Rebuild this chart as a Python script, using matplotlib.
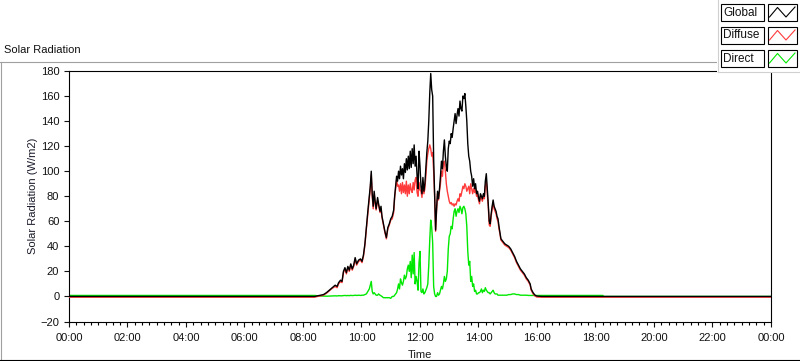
import matplotlib
matplotlib.use('Agg')
import matplotlib.pyplot as plt
from matplotlib.patches import Rectangle
from matplotlib.lines import Line2D
from matplotlib.ticker import MultipleLocator, FixedLocator

plt.rcParams['font.family'] = ['Liberation Sans', 'DejaVu Sans']
plt.rcParams['font.size'] = 8

# time of each reading (HH:MM) and the three radiation series (W/m2)
times = ['00:00', '08:24', '08:30', '08:36', '08:42', '08:48', '08:54', '09:00', '09:06', '09:10',
         '09:13', '09:17', '09:20', '09:23', '09:26', '09:29', '09:32', '09:35', '09:38', '09:41',
         '09:44', '09:47', '09:50', '09:54', '09:58', '10:01', '10:04', '10:07', '10:10', '10:13',
         '10:16', '10:18', '10:20', '10:22', '10:24', '10:26', '10:28', '10:30', '10:33', '10:35',
         '10:38', '10:40', '10:42', '10:45', '10:48', '10:51', '10:54', '10:57', '11:00', '11:03',
         '11:06', '11:08', '11:10', '11:12', '11:14', '11:16', '11:18', '11:20', '11:22', '11:24',
         '11:26', '11:28', '11:30', '11:32', '11:34', '11:36', '11:38', '11:40', '11:42', '11:44',
         '11:46', '11:48', '11:50', '11:52', '11:54', '11:56', '11:58', '12:00', '12:02', '12:04',
         '12:06', '12:08', '12:10', '12:12', '12:14', '12:16', '12:18', '12:20', '12:22', '12:24',
         '12:26', '12:28', '12:30', '12:32', '12:34', '12:36', '12:38', '12:40', '12:42', '12:44',
         '12:46', '12:48', '12:50', '12:52', '12:54', '12:56', '12:58', '13:00', '13:02', '13:04',
         '13:06', '13:08', '13:10', '13:12', '13:14', '13:16', '13:18', '13:20', '13:22', '13:24',
         '13:26', '13:28', '13:30', '13:32', '13:34', '13:36', '13:38', '13:40', '13:42', '13:44',
         '13:46', '13:48', '13:50', '13:52', '13:54', '13:56', '13:58', '14:00', '14:02', '14:04',
         '14:06', '14:08', '14:10', '14:12', '14:14', '14:16', '14:18', '14:20', '14:22', '14:24',
         '14:26', '14:28', '14:30', '14:32', '14:34', '14:36', '14:38', '14:40', '14:42', '14:44',
         '14:46', '14:48', '14:50', '14:54', '14:58', '15:02', '15:06', '15:10', '15:14', '15:18',
         '15:22', '15:26', '15:30', '15:34', '15:38', '15:42', '15:46', '15:48', '15:52', '15:56',
         '16:00', '16:10', '18:15', '18:17', '24:00']

global_rad = [0, 0, 0.5, 1, 1.5, 3, 5, 7, 9, 8,
              11, 13, 12, 20, 23, 19, 24, 21, 26, 22,
              25, 31, 26, 29, 30, 28, 33, 42, 55, 68,
              80, 88, 100, 82, 72, 84, 76, 70, 79, 74,
              68, 72, 64, 58, 52, 47, 55, 58, 62, 64,
              69, 80, 88, 96, 92, 100, 94, 104, 97, 102,
              94, 106, 99, 110, 101, 112, 102, 116, 103, 118,
              106, 121, 104, 112, 96, 86, 116, 104, 88, 82,
              95, 84, 90, 102, 115, 124, 140, 162, 178, 165,
              160, 110, 82, 53, 70, 84, 78, 86, 96, 108,
              102, 116, 125, 112, 104, 100, 118, 124, 122, 130,
              127, 134, 140, 146, 138, 145, 150, 144, 156, 150,
              148, 160, 158, 162, 152, 140, 122, 112, 108, 100,
              96, 88, 94, 86, 90, 82, 84, 79, 76, 82,
              80, 78, 82, 80, 92, 98, 86, 74, 60, 58,
              66, 72, 77, 72, 70, 68, 64, 62, 56, 51,
              46, 45, 44, 42, 41, 40, 38, 35, 32, 28,
              25, 22, 20, 18, 15, 13, 10, 6, 3, 1,
              0.3, 0, 0, 0, 0]

diffuse_rad = [-0.6, -0.6, 0, 0.5, 1, 2.5, 4.5, 6.5, 8, 7,
               10, 12, 11, 19, 22, 18, 23, 20, 25, 21,
               24, 30, 25, 28, 29, 27, 32, 41, 54, 66,
               78, 86, 97, 80, 70, 82, 74, 69, 77, 73,
               67, 70, 63, 57, 51, 46, 54, 57, 61, 62,
               67, 79, 86, 93, 88, 89, 84, 90, 82, 91,
               83, 89, 82, 92, 80, 89, 82, 90, 85, 83,
               91, 85, 93, 95, 83, 80, 91, 85, 84, 79,
               88, 82, 86, 96, 108, 114, 118, 121, 118, 112,
               115, 100, 80, 52, 69, 82, 77, 84, 90, 100,
               96, 106, 108, 100, 90, 84, 80, 76, 74, 75,
               73, 74, 72, 74, 73, 76, 78, 76, 82, 80,
               84, 88, 86, 90, 88, 84, 86, 88, 82, 90,
               86, 82, 86, 83, 86, 80, 82, 77, 74, 80,
               78, 76, 80, 78, 88, 92, 82, 72, 57, 56,
               64, 70, 75, 70, 68, 66, 62, 60, 54, 50,
               45, 44, 43, 41, 40, 39, 37, 34, 31, 27,
               24, 21, 19, 17, 14, 12, 9, 5, 2, 0.3,
               -0.5, -0.6, -0.6, -0.6, -0.6]

direct_rad = [0.8, 0.8, 0.5, 0.3, 0.3, 0.2, 0.3, 0.4, 0.5, 0.4,
              0.6, 0.5, 0.5, 0.7, 0.8, 0.6, 0.8, 0.6, 0.9, 0.7,
              0.8, 1.0, 0.8, 1, 0.8, 1.0, 1, 1.5, 2, 4,
              6, 9, 12, 4, 2, 3, 2, 1, 1, 2,
              1, 0.5, 0, -1, -1, -1, -1, -1, -1.5, 0,
              0, 1, 2, 3, 6, 10, 6, 14, 11, 9,
              12, 17, 14, 16, 22, 25, 20, 28, 15, 33,
              18, 35, 10, 16, 12, 5, 27, 36, 4, 3,
              6, 2, 3, 5, 7, 10, 25, 45, 61, 55,
              43, 8, 2, 0, 0, 3, 1, 2, 5, 8,
              6, 10, 16, 12, 14, 20, 38, 48, 50, 56,
              54, 62, 68, 70, 64, 68, 70, 67, 72, 70,
              66, 71, 72, 70, 66, 56, 36, 25, 28, 12,
              16, 8, 10, 4, 5, 2, 2, 3, 3, 4,
              6, 3, 5, 4, 7, 5, 4, 3, 3, 2,
              3, 4, 5, 3, 2, 2, 2, 1, 1, 1,
              1, 1, 1, 1, 1, 1.5, 1.5, 2, 2, 1.5,
              1.5, 1, 1, 1, 1, 0.8, 0.8, 0.8, 0.8, 0.8,
              0.8, 0.8, 0.8, 0, 0]

series_names = ['Global', 'Diffuse', 'Direct']
series_colors = ['#000000', '#ff3b3b', '#00e800']
x_ticklabels = ['00:00', '02:00', '04:00', '06:00', '08:00', '10:00', '12:00',
                '14:00', '16:00', '18:00', '20:00', '22:00', '00:00']


def to_hours(t):
    hh, mm = t.split(':')
    return int(hh) + int(mm) / 60.0


hours = [to_hours(t) for t in times]

W, H = 800, 361
fig = plt.figure(figsize=(W / 100, H / 100), dpi=100)
fig.patch.set_facecolor('white')


def fx(x):
    return x / W


def fy(y):
    return 1 - y / H


ax = fig.add_axes([fx(69), fy(321.5), fx(771) - fx(69), fy(71) - fy(321.5)])

# draw order: green under red under black
ax.plot(hours, direct_rad, color=series_colors[2], lw=1.0, zorder=2)
ax.plot(hours, diffuse_rad, color=series_colors[1], lw=1.0, zorder=3)
ax.plot(hours, global_rad, color=series_colors[0], lw=1.0, zorder=4)

ax.set_xlim(0, 24)
ax.set_ylim(-20, 180)
ax.yaxis.set_major_locator(MultipleLocator(20))
ax.xaxis.set_major_locator(FixedLocator(list(range(0, 25, 2))))
ax.xaxis.set_minor_locator(MultipleLocator(0.25))
ax.set_xticklabels(x_ticklabels)
ax.tick_params(axis='both', which='major', length=3.5, width=0.8, labelsize=8, colors='#111111')
ax.tick_params(axis='y', which='major', pad=3.5)
ax.tick_params(axis='x', which='major', pad=5)
ax.tick_params(axis='x', which='minor', length=2.2, width=0.8)
for sp in ax.spines.values():
    sp.set_linewidth(0.8)
    sp.set_color('black')

ax.set_ylabel('Solar Radiation (W/m2)', fontsize=8, color='#1a1a2a', labelpad=1.5)
ax.set_xlabel('Time', fontsize=8, color='#1a1a1a', labelpad=5)

# panel frame
fig.add_artist(Line2D([fx(0), fx(717)], [fy(61.5), fy(61.5)], color='#a0a0a0', lw=0.8))
fig.add_artist(Line2D([fx(1), fx(1)], [fy(61.5), fy(359)], color='#a0a0a0', lw=0.8))
fig.add_artist(Line2D([fx(0), fx(800)], [fy(359.5), fy(359.5)], color='black', lw=0.8))
fig.text(fx(4), fy(50), 'Solar Radiation', fontsize=8, ha='left', va='center', color='#111111')

# legend panel drawn by hand
fig.add_artist(Rectangle((fx(717), fy(72)), fx(800) - fx(717), fy(0) - fy(72),
                         facecolor='white', edgecolor='none', zorder=5))
fig.add_artist(Line2D([fx(717.5), fx(717.5)], [fy(0), fy(72)], color='#d0d0d0', lw=0.8, zorder=6))
fig.add_artist(Line2D([fx(717.5), fx(800)], [fy(72), fy(72)], color='#d0d0d0', lw=0.8, zorder=6))
for i, (name, col) in enumerate(zip(series_names, series_colors)):
    top = 3.5 + i * 23
    fig.add_artist(Rectangle((fx(721), fy(top + 17.5)), fx(763.5) - fx(721), fy(top) - fy(top + 17.5),
                             facecolor='white', edgecolor='black', lw=0.8, zorder=7))
    fig.text(fx(723.5), fy(top + 9), name, fontsize=8.5, ha='left', va='center', color='#111111', zorder=8)
    fig.add_artist(Rectangle((fx(767.5), fy(top + 17.5)), fx(797) - fx(767.5), fy(top) - fy(top + 17.5),
                             facecolor='white', edgecolor='black', lw=0.8, zorder=7))
    zx = [fx(769.5), fx(777.5), fx(786), fx(795)]
    zy = [fy(top + 13.5), fy(top + 4), fy(top + 13.5), fy(top + 3.5)]
    fig.add_artist(Line2D(zx, zy, color=col, lw=0.8, zorder=8))

fig.savefig('out.png', dpi=100)
